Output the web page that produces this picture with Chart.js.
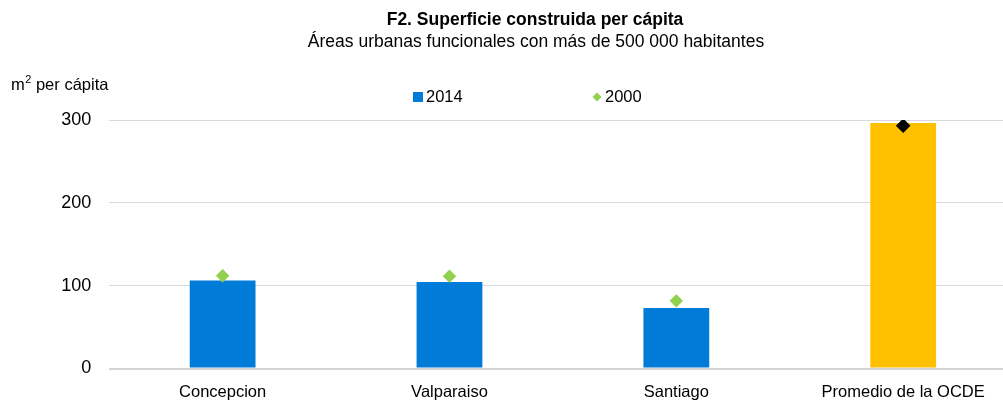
<!DOCTYPE html>
<html>
<head>
<meta charset="utf-8">
<script src="https://cdn.jsdelivr.net/npm/chart.js@4"></script>
<style>
  html, body { margin: 0; padding: 0; background: #fff; overflow: hidden; }
  #wrap { position: relative; width: 1070px; height: 403px; }
</style>
</head>
<body>
<div id="wrap"><canvas id="chart"></canvas></div>
<script>
// chart data
const categories = ["Concepcion", "Valparaiso", "Santiago", "Promedio de la OCDE"];
const values2014 = [106.3, 104.3, 72.9, 296.4];
const values2000 = [111.9, 111.5, 81.7, 293.1];
const yTicks = [0, 100, 200, 300];
const seriesLabels = ["2014", "2000"];

const titleText = "F2. Superficie construida per cápita";
const subtitleText = "Áreas urbanas funcionales con más de 500 000 habitantes";

const FONT = '"Liberation Sans Narrow", "Arial Narrow", "Liberation Sans", Arial, sans-serif';
const BLUE = "#007BD7";
const YELLOW = "#FFC000";
const GREEN = "#92D050";

// titles, legend + unit label, placed by hand like in the original
// (the original figure is cropped on the right, so its title is not centred on the page)
const overlay = {
  id: "overlay",
  afterDraw(chart) {
    const ctx = chart.ctx;
    ctx.save();
    ctx.fillStyle = "#000";

    ctx.textAlign = "center";
    ctx.textBaseline = "middle";
    ctx.font = "bold 17.5px " + FONT;
    ctx.fillText(titleText, 535, 20);
    ctx.font = "17.5px " + FONT;
    ctx.fillText(subtitleText, 536, 42);

    // unit label: m² per cápita
    ctx.textAlign = "left";
    ctx.textBaseline = "alphabetic";
    ctx.font = "16.5px " + FONT;
    ctx.fillText("m", 11, 90);
    const mw = ctx.measureText("m").width;
    ctx.font = "11px " + FONT;
    ctx.fillText("2", 11 + mw + 0.5, 83);
    const sw = ctx.measureText("2").width;
    ctx.font = "16.5px " + FONT;
    ctx.fillText(" per cápita", 11 + mw + 0.5 + sw, 90);

    // legend
    ctx.textBaseline = "middle";
    ctx.fillStyle = BLUE;
    ctx.fillRect(413, 92, 10, 10);
    ctx.fillStyle = "#000";
    ctx.fillText(seriesLabels[0], 426, 97.5);

    ctx.fillStyle = GREEN;
    ctx.beginPath();
    ctx.moveTo(597, 92.5);
    ctx.lineTo(601.5, 97);
    ctx.lineTo(597, 101.5);
    ctx.lineTo(592.5, 97);
    ctx.closePath();
    ctx.fill();
    ctx.fillStyle = "#000";
    ctx.fillText(seriesLabels[1], 605, 97.5);
    ctx.restore();
  }
};

const ctx = document.getElementById("chart").getContext("2d");

new Chart(ctx, {
  type: "bar",
  data: {
    labels: categories,
    datasets: [
      {
        type: "line",
        label: seriesLabels[1],
        data: values2000,
        showLine: false,
        pointStyle: "rectRot",
        pointRadius: [6.7, 6.7, 6.7, 7.3],
        pointBorderWidth: 0,
        pointBackgroundColor: [GREEN, GREEN, GREEN, "#000000"],
        pointBorderColor: [GREEN, GREEN, GREEN, "#000000"],
        order: 0
      },
      {
        label: seriesLabels[0],
        data: values2014,
        backgroundColor: [BLUE, BLUE, BLUE, YELLOW],
        borderWidth: 0,
        barPercentage: 0.29,
        categoryPercentage: 1,
        order: 1
      }
    ]
  },
  options: {
    responsive: true,
    maintainAspectRatio: false,
    animation: false,
    layout: { padding: { left: 0, right: 53.4, top: 120, bottom: -14.3 } },
    plugins: {
      legend: { display: false },
      tooltip: { enabled: false },
      title: { display: false }
    },
    scales: {
      x: {
        grid: { display: false, drawTicks: false },
        border: { display: false },
        ticks: {
          color: "#000",
          padding: 14.5,
          font: { family: FONT, size: 16.5 },
          maxRotation: 0,
          autoSkip: false
        }
      },
      y: {
        min: 0,
        max: 300,
        afterBuildTicks: s => { s.ticks = yTicks.map(v => ({ value: v })); },
        afterFit: s => { s.width = 109.2; },
        grid: {
          drawTicks: false,
          color: c => c.tick && c.tick.value === 0 ? "#D4D4D4" : "#D9D9D9",
          lineWidth: c => c.tick && c.tick.value === 0 ? 2 : 1
        },
        border: { display: false },
        ticks: {
          color: "#000",
          padding: 18,
          font: { family: FONT, size: 18 }
        }
      }
    }
  },
  plugins: [overlay]
});
</script>
</body>
</html>
